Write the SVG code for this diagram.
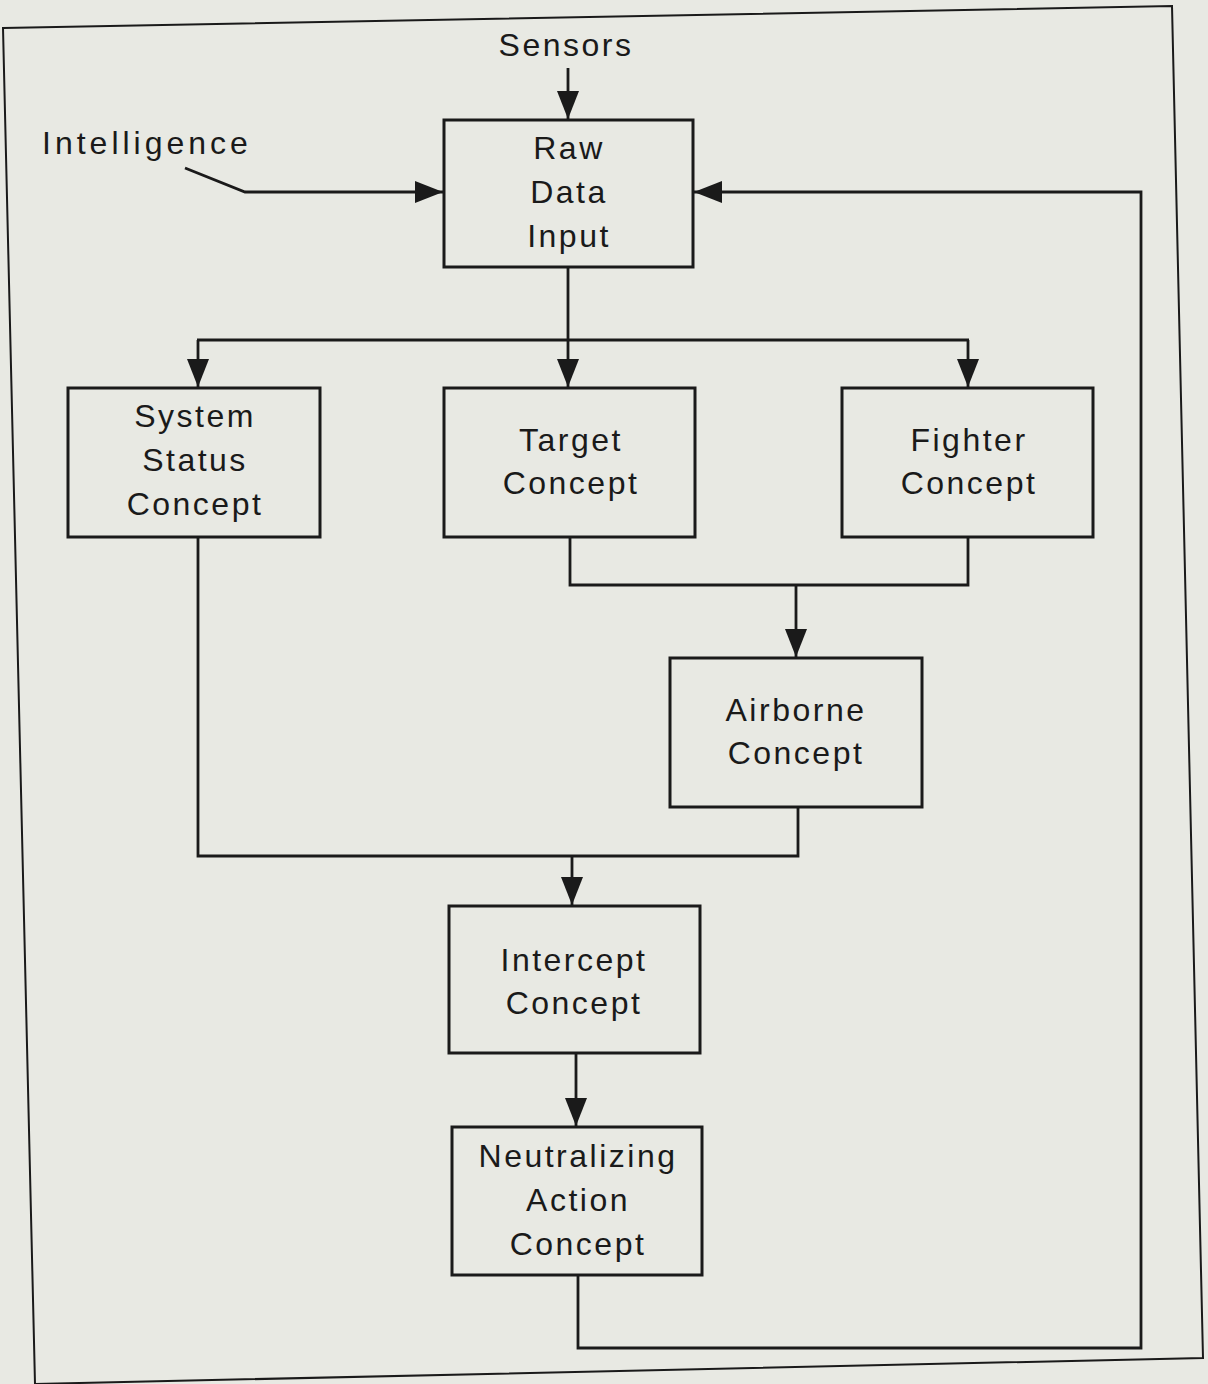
<svg xmlns="http://www.w3.org/2000/svg" width="1208" height="1384" viewBox="0 0 1208 1384">
<defs>
<style>
.box{fill:none;stroke:#1a1a1a;stroke-width:3}
.ln{fill:none;stroke:#1a1a1a;stroke-width:2.8}
.arr{fill:none;stroke:#1a1a1a;stroke-width:2.8;marker-end:url(#ah)}
text{font-family:"Liberation Sans",Arial,sans-serif;font-size:32px;fill:#1a1a1a;letter-spacing:2.5px;text-anchor:middle}
.lbl{text-anchor:start;letter-spacing:4px}
</style>
<marker id="ah" markerUnits="userSpaceOnUse" markerWidth="28" markerHeight="22" viewBox="0 0 28 22" refX="28" refY="11" orient="auto">
<path d="M0,0 L28,11 L0,22 Z" fill="#1a1a1a"/>
</marker>
</defs>
<rect width="1208" height="1384" fill="#e8e9e3"/>
<polygon points="3,28 1172,6 1203,1358 35,1384" fill="none" stroke="#1a1a1a" stroke-width="2"/>

<g id="connectors">
<line class="arr" x1="568" y1="68" x2="568" y2="119"/>
<polyline class="arr" points="185,168 245,192 443,192" stroke-width="3.5"/>
<polyline class="arr" points="578,1276 578,1348 1141,1348 1141,192 694,192"/>
<line class="ln" x1="568" y1="267" x2="568" y2="340"/>
<line class="ln" x1="197" y1="340" x2="969" y2="340"/>
<line class="arr" x1="198" y1="340" x2="198" y2="387"/>
<line class="arr" x1="568" y1="340" x2="568" y2="387"/>
<line class="arr" x1="968" y1="340" x2="968" y2="387"/>
<polyline class="ln" points="570,537 570,585 968,585 968,537"/>
<line class="arr" x1="796" y1="585" x2="796" y2="657"/>
<polyline class="ln" points="198,537 198,856 798,856 798,807"/>
<line class="arr" x1="572" y1="856" x2="572" y2="905"/>
<line class="arr" x1="576" y1="1053" x2="576" y2="1126"/>
</g>

<g id="sensors"><text x="566" y="56">Sensors</text></g>
<g id="intelligence"><text class="lbl" x="42" y="154">Intelligence</text></g>

<g id="raw-data-input">
<rect class="box" x="444" y="120" width="249" height="147"/>
<text x="569" y="159">Raw</text>
<text x="569" y="203">Data</text>
<text x="569" y="247">Input</text>
</g>

<g id="system-status-concept">
<rect class="box" x="68" y="388" width="252" height="149"/>
<text x="195" y="427">System</text>
<text x="195" y="471">Status</text>
<text x="195" y="515">Concept</text>
</g>

<g id="target-concept">
<rect class="box" x="444" y="388" width="251" height="149"/>
<text x="571" y="451">Target</text>
<text x="571" y="494">Concept</text>
</g>

<g id="fighter-concept">
<rect class="box" x="842" y="388" width="251" height="149"/>
<text x="969" y="451">Fighter</text>
<text x="969" y="494">Concept</text>
</g>

<g id="airborne-concept">
<rect class="box" x="670" y="658" width="252" height="149"/>
<text x="796" y="721">Airborne</text>
<text x="796" y="764">Concept</text>
</g>

<g id="intercept-concept">
<rect class="box" x="449" y="906" width="251" height="147"/>
<text x="574" y="971">Intercept</text>
<text x="574" y="1014">Concept</text>
</g>

<g id="neutralizing-action-concept">
<rect class="box" x="452" y="1127" width="250" height="148"/>
<text x="578" y="1167">Neutralizing</text>
<text x="578" y="1211">Action</text>
<text x="578" y="1255">Concept</text>
</g>
</svg>
